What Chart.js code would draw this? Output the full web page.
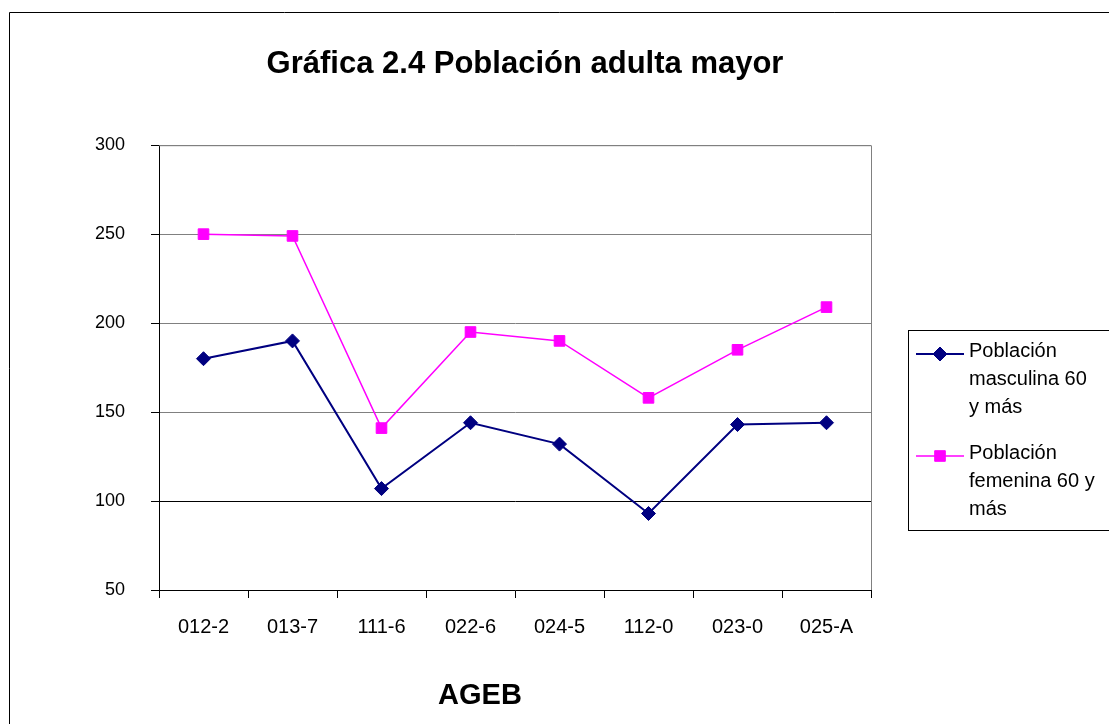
<!DOCTYPE html>
<html>
<head>
<meta charset="utf-8">
<script src="https://cdn.jsdelivr.net/npm/chart.js@4/dist/chart.umd.min.js"></script>
<style>
  html, body { margin: 0; padding: 0; background: #fff; }
  #grafico { display: block; }
</style>
</head>
<body>
<canvas id="grafico" width="1109" height="724"></canvas>
<script>
// datos de la grafica
const ageb = ["012-2", "013-7", "111-6", "022-6", "024-5", "112-0", "023-0", "025-A"]
const masculina = [180, 190, 107, 144, 132, 93, 143, 144]
const femenina = [250, 249, 141, 195, 190, 158, 185, 209]
const titulo = "Gráfica 2.4 Población adulta mayor"
const tituloEje = "AGEB"
const etiquetaMasc = ["Población", "masculina 60", "y más"]
const etiquetaFem = ["Población", "femenina 60 y", "más"]

const fuente = "Arial, 'Liberation Sans', sans-serif"

// fondo, marco, borde del area y leyenda dibujada a mano (texto en varias lineas)
const extras = {
  id: "extras",
  beforeDraw(chart) {
    const ctx = chart.ctx
    ctx.save()
    ctx.fillStyle = "#fff"
    ctx.fillRect(0, 0, chart.width, chart.height)
    ctx.restore()
  },
  beforeDatasetsDraw(chart) {
    const ctx = chart.ctx
    const a = chart.chartArea
    ctx.save()
    ctx.strokeStyle = "#808080"
    ctx.lineWidth = 1
    ctx.beginPath()
    ctx.moveTo(a.left, a.top + 0.5)
    ctx.lineTo(a.right + 0.5, a.top + 0.5)
    ctx.lineTo(a.right + 0.5, a.bottom)
    ctx.stroke()
    ctx.restore()
  },
  afterDraw(chart) {
    const ctx = chart.ctx
    ctx.save()
    // marco exterior
    ctx.strokeStyle = "#000"
    ctx.lineWidth = 1
    ctx.beginPath()
    ctx.moveTo(9.5, chart.height)
    ctx.lineTo(9.5, 12.5)
    ctx.lineTo(chart.width, 12.5)
    ctx.stroke()

    // titulo del eje x
    ctx.fillStyle = "#000"
    ctx.font = "bold 29px " + fuente
    ctx.textAlign = "center"
    ctx.textBaseline = "middle"
    ctx.fillText(tituloEje, 480, 696)

    // leyenda
    ctx.strokeRect(908.5, 330.5, 220, 200)
    const items = [
      { ds: chart.data.datasets[0], lineas: etiquetaMasc, y: 351 },
      { ds: chart.data.datasets[1], lineas: etiquetaFem, y: 453 }
    ]
    items.forEach(it => {
      ctx.strokeStyle = it.ds.borderColor
      ctx.fillStyle = it.ds.backgroundColor
      ctx.lineWidth = it.ds.borderWidth
      ctx.beginPath()
      ctx.moveTo(916, it.y + 3)
      ctx.lineTo(964, it.y + 3)
      ctx.stroke()
      ctx.lineWidth = 1
      Chart.helpers.drawPoint(ctx, {
        pointStyle: it.ds.pointStyle,
        radius: it.ds.pointRadius,
        borderWidth: 1
      }, 940, it.y + 3)
      ctx.fillStyle = "#000"
      ctx.font = "20px " + fuente
      ctx.textAlign = "left"
      ctx.textBaseline = "middle"
      it.lineas.forEach((t, i) => ctx.fillText(t, 969, it.y + i * 28))
    })
    ctx.restore()
  }
}

const grafico = new Chart(document.getElementById("grafico"), {
  type: "line",
  data: {
    labels: ageb,
    datasets: [{
      label: etiquetaMasc.join(" "),
      data: masculina,
      borderColor: "#000080",
      backgroundColor: "#000080",
      borderWidth: 2,
      pointStyle: "rectRot",
      pointRadius: 7,
      pointBorderWidth: 1,
      tension: 0
    }, {
      label: etiquetaFem.join(" "),
      data: femenina,
      borderColor: "#FF00FF",
      backgroundColor: "#FF00FF",
      borderWidth: 1.5,
      pointStyle: "rect",
      pointRadius: 7.5,
      pointBorderWidth: 1,
      tension: 0
    }]
  },
  options: {
    responsive: false,
    animation: false,
    layout: { padding: { left: 0, right: 59, top: 0, bottom: 0 } },
    plugins: {
      legend: { display: false },
      tooltip: { enabled: false },
      title: {
        display: true,
        text: titulo,
        color: "#000",
        font: { family: fuente, size: 31, weight: "bold" },
        padding: { top: 46, bottom: 62 }
      }
    },
    scales: {
      x: {
        offset: true,
        grid: { offset: true, drawOnChartArea: false, drawTicks: true, tickLength: 8, color: "#000" },
        border: { color: "#000" },
        ticks: { color: "#000", font: { family: fuente, size: 20 }, padding: 17, maxRotation: 0 },
        afterFit(s) { s.height = 134 }
      },
      y: {
        min: 50,
        max: 300,
        ticks: { stepSize: 50, color: "#000", font: { family: fuente, size: 18 }, padding: 26 },
        grid: {
          color: c => c.tick && c.tick.value === 100 ? "#000" : "#808080",
          tickColor: "#000",
          tickLength: 8
        },
        border: { color: "#000" },
        afterFit(s) { s.width = 159 }
      },
      yR: {
        position: "right",
        display: true,
        grid: { display: false },
        border: { display: false },
        ticks: { display: false },
        afterFit(s) { s.width = 179 }
      }
    }
  },
  plugins: [extras]
})
</script>
</body>
</html>
